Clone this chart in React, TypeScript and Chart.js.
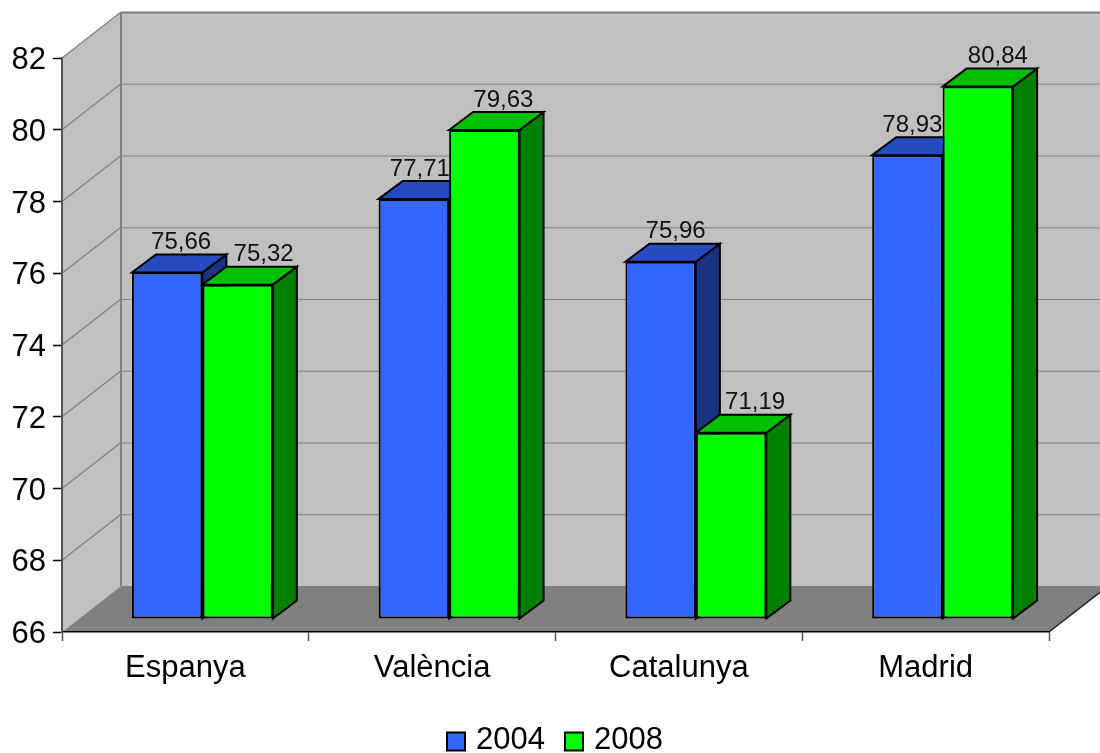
import React, { useEffect, useRef } from "react";
import { Chart, registerables } from "chart.js";

Chart.register(...registerables);

const categories = ["Espanya", "València", "Catalunya", "Madrid"];
const values2004 = [75.66, 77.71, 75.96, 78.93];
const values2008 = [75.32, 79.63, 71.19, 80.84];
const yTicksMin = 66;
const yTicksMax = 82;
const yTickStep = 2;
const seriesNames = ["2004", "2008"];

const labelShift2004 = [14, 6, 15, 5];
const labelShift2008 = [26, 19, 24, 20];

const FONT = '"Liberation Sans", Arial, sans-serif';
const DEPTH_X = 59;
const DEPTH_Y = 46;
const BAR_DX = 17;
const BAR_DY = -13;
const BAR_DEPTH_X = 24;
const BAR_DEPTH_Y = 18;

const styles = [
  { front: "#3366FF", top: "#264ABF", side: "#1A3380" },
  { front: "#00FF00", top: "#00BF00", side: "#008000" },
];

function poly(ctx: CanvasRenderingContext2D, pts: number[][], fill: string | null, stroke: string | null, lw = 2) {
  ctx.beginPath();
  pts.forEach((p, i) => (i ? ctx.lineTo(p[0], p[1]) : ctx.moveTo(p[0], p[1])));
  ctx.closePath();
  if (fill) {
    ctx.fillStyle = fill;
    ctx.fill();
  }
  if (stroke) {
    ctx.strokeStyle = stroke;
    ctx.lineWidth = lw;
    ctx.lineJoin = "miter";
    ctx.stroke();
  }
}

function seg(ctx: CanvasRenderingContext2D, x1: number, y1: number, x2: number, y2: number, color: string, lw: number) {
  ctx.beginPath();
  ctx.moveTo(x1, y1);
  ctx.lineTo(x2, y2);
  ctx.strokeStyle = color;
  ctx.lineWidth = lw;
  ctx.stroke();
}

const walls3d = {
  id: "walls3d",
  beforeDraw(chart: any) {
    const { ctx, chartArea: a, scales } = chart;
    const l = a.left, r = a.right, t = a.top, b = a.bottom;
    // the value labels sit a little under their ticks in the reference
    scales.y.getLabelItems().forEach((it: any) => {
      if (!it.nudged) {
        it.textOffset += 2.5;
        it.nudged = true;
      }
    });
    ctx.save();
    poly(ctx, [[l, b], [l, t], [l + DEPTH_X, t - DEPTH_Y], [l + DEPTH_X, b - DEPTH_Y]], "#C0C0C0", null);
    poly(ctx, [[l + DEPTH_X, t - DEPTH_Y], [r + DEPTH_X, t - DEPTH_Y], [r + DEPTH_X, b - DEPTH_Y], [l + DEPTH_X, b - DEPTH_Y]], "#C0C0C0", null);
    for (let v = yTicksMin + yTickStep; v <= yTicksMax; v += yTickStep) {
      const y = scales.y.getPixelForValue(v);
      seg(ctx, l, y, l + DEPTH_X, y - DEPTH_Y, "#808080", 1.2);
      if (v < yTicksMax) seg(ctx, l + DEPTH_X, y - DEPTH_Y + 0.5, r + DEPTH_X, y - DEPTH_Y + 0.5, "#808080", 1.2);
    }
    seg(ctx, l + DEPTH_X, t - DEPTH_Y + 0.5, r + DEPTH_X, t - DEPTH_Y + 0.5, "#808080", 2);
    seg(ctx, l + DEPTH_X, t - DEPTH_Y, l + DEPTH_X, b - DEPTH_Y, "#808080", 2);
    poly(ctx, [[l, b], [l + DEPTH_X, b - DEPTH_Y], [r + DEPTH_X, b - DEPTH_Y], [r, b]], "#808080", null);
    seg(ctx, r, b, r + DEPTH_X, b - DEPTH_Y, "#222222", 1.5);
    ctx.restore();
  },
  beforeDatasetsDraw(chart: any) {
    // 2004 first, 2008 over it; each column's side and top behind its front face.
    const { ctx } = chart;
    chart.data.datasets.forEach((_: any, di: number) => {
      const st = styles[di];
      const meta = chart.getDatasetMeta(di);
      ctx.save();
      ctx.translate(BAR_DX, BAR_DY);
      meta.data.forEach((bar: any) => {
        const p = bar.getProps(["x", "y", "base", "width"], true);
        const x0 = p.x - p.width / 2, x1 = p.x + p.width / 2;
        poly(ctx, [[x1, p.y], [x1 + BAR_DEPTH_X, p.y - BAR_DEPTH_Y], [x1 + BAR_DEPTH_X, p.base - BAR_DEPTH_Y], [x1, p.base]], st.side, "#000000");
        poly(ctx, [[x0, p.y], [x0 + BAR_DEPTH_X, p.y - BAR_DEPTH_Y], [x1 + BAR_DEPTH_X, p.y - BAR_DEPTH_Y], [x1, p.y]], st.top, "#000000");
      });
      meta.controller.draw();
      ctx.restore();
    });
    return false;
  },
  afterDraw(chart: any) {
    const { ctx } = chart;
    ctx.save();
    ctx.font = `24px ${FONT}`;
    ctx.fillStyle = "#111111";
    ctx.textAlign = "center";
    ctx.textBaseline = "middle";
    const shifts = [labelShift2004, labelShift2008];
    chart.data.datasets.forEach((ds: any, di: number) => {
      chart.getDatasetMeta(di).data.forEach((bar: any, i: number) => {
        const p = bar.getProps(["x", "y"], true);
        const text = ds.data[i].toFixed(2).replace(".", ",");
        ctx.fillText(text, p.x + BAR_DX + shifts[di][i], p.y + BAR_DY - 30);
      });
    });

    const y = 741.5;
    const xs = [[447, 476], [565, 594]];
    ctx.font = `31px ${FONT}`;
    ctx.textAlign = "left";
    chart.data.datasets.forEach((ds: any, i: number) => {
      ctx.fillStyle = ds.backgroundColor;
      ctx.fillRect(xs[i][0], y - 9, 18, 18);
      ctx.strokeStyle = "#000000";
      ctx.lineWidth = 2;
      ctx.strokeRect(xs[i][0], y - 9, 18, 18);
      ctx.fillStyle = "#000000";
      ctx.fillText(ds.label, xs[i][1], y - 1);
    });
    ctx.restore();
  },
};

export default function App() {
  const ref = useRef<HTMLCanvasElement | null>(null);
  useEffect(() => {
    const chart = new Chart(ref.current as HTMLCanvasElement, {
      type: "bar",
      data: {
        labels: categories,
        datasets: [
          { label: seriesNames[0], data: values2004, base: yTicksMin, backgroundColor: styles[0].front, borderColor: "#000000", borderWidth: 2, borderSkipped: false, clip: false } as any,
          { label: seriesNames[1], data: values2008, base: yTicksMin, backgroundColor: styles[1].front, borderColor: "#000000", borderWidth: 2, borderSkipped: false, clip: false } as any,
        ],
      },
      options: {
        responsive: false,
        animation: false,
        layout: { padding: { left: 0, top: 58, right: 51, bottom: 0 } },
        plugins: { legend: { display: false }, tooltip: { enabled: false }, title: { display: false } },
        datasets: { bar: { barPercentage: 1, categoryPercentage: 0.571 } },
        scales: {
          x: {
            afterFit: (s: any) => { s.height = 121; },
            grid: { drawOnChartArea: false, drawTicks: true, tickLength: 9, tickColor: "#555555", tickWidth: 1.5 },
            border: { color: "#000000", width: 1.5 },
            ticks: { font: { family: FONT, size: 31 }, color: "#000000", padding: 9, autoSkip: false, maxRotation: 0 },
          },
          y: {
            min: yTicksMin,
            max: yTicksMax,
            afterFit: (s: any) => { s.width = 62; },
            grid: { drawOnChartArea: false, drawTicks: true, tickLength: 9, tickColor: "#000000", tickWidth: 1.5 },
            border: { color: "#555555", width: 2 },
            ticks: { stepSize: yTickStep, font: { family: FONT, size: 31 }, color: "#000000", padding: 7 },
          },
        },
      },
      plugins: [walls3d],
    } as any);
    return () => chart.destroy();
  }, []);
  return (
    <div style={{ position: "absolute", left: 0, top: 0, width: 1100, height: 753, overflow: "hidden", background: "#fff" }}>
      <canvas ref={ref} width={1100} height={753} style={{ display: "block" }} />
    </div>
  );
}
